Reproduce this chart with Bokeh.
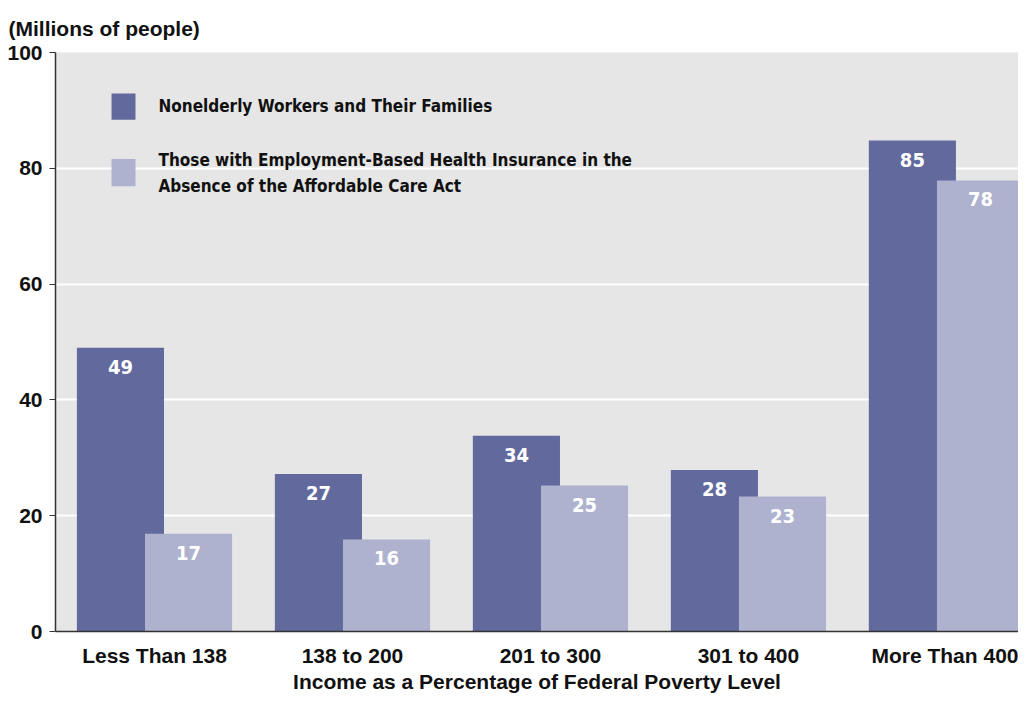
from bokeh.plotting import figure
from bokeh.models import Range1d, FixedTicker, Label, ColumnDataSource, BoxAnnotation
from bokeh.core.properties import value
from bokeh.transform import dodge
from bokeh.embed import file_html
from bokeh.resources import INLINE

categories = ["Less Than 138", "138 to 200", "201 to 300", "301 to 400", "More Than 400"]
nonelderly = [49.0, 27.2, 33.8, 27.9, 84.8]
ebhi = [16.9, 15.9, 25.2, 23.3, 77.9]
nonelderly_labels = ["49", "27", "34", "28", "85"]
ebhi_labels = ["17", "16", "25", "23", "78"]
series_names = ["Nonelderly Workers and Their Families",
                "Those with Employment-Based Health Insurance in the",
                "Absence of the Affordable Care Act"]
y_ticks = [0, 20, 40, 60, 80, 100]
y_title = "(Millions of people)"
x_title = "Income as a Percentage of Federal Poverty Level"

DARK = "#61699d"
LIGHT = "#aeb2cf"
BG = "#e6e6e6"
AX_FONT = "'Liberation Sans', Arial, sans-serif"
COND = "'Liberation Sans Narrow', 'DejaVu Sans Condensed', sans-serif"

pos = list(range(len(categories)))
src = ColumnDataSource(dict(x=pos, a=nonelderly, b=ebhi, la=nonelderly_labels, lb=ebhi_labels))

p = figure(width=1018, height=695, x_range=Range1d(-0.5, 4.364), y_range=Range1d(0, 100),
           output_backend="svg", toolbar_location=None,
           min_border_left=55, min_border_right=0, min_border_top=52, min_border_bottom=63)

p.title.text = y_title
p.title.align = "left"
p.title.vertical_align = "top"
p.title.offset = -47
p.title.standoff = 22
p.title.text_font = AX_FONT
p.title.text_font_style = "bold"
p.title.text_font_size = "21px"
p.title.text_color = "#111111"

OFF = 0.172
W = 0.44
p.vbar(x=dodge('x', -OFF), top='a', bottom=0, width=W, source=src, fill_color=DARK, line_color=None)
p.vbar(x=dodge('x', OFF), top='b', bottom=0, width=W, source=src, fill_color=LIGHT, line_color=None)

for col, lab, off in (("a", "la", -OFF), ("b", "lb", OFF)):
    p.text(x=dodge('x', off), y=col, text=lab, source=src, text_color="white",
           text_align="center", text_baseline="middle", y_offset=19,
           text_font=value(COND), text_font_style="bold", text_font_size="20px")

p.background_fill_color = BG
p.border_fill_color = "white"
p.outline_line_color = None
p.xgrid.visible = False
p.ygrid.grid_line_color = "white"
p.ygrid.grid_line_width = 2

p.yaxis.ticker = FixedTicker(ticks=y_ticks)
p.yaxis.minor_tick_line_color = None
p.yaxis.major_tick_out = 6
p.yaxis.major_tick_in = 0
p.yaxis.axis_line_color = "#333333"
p.yaxis.axis_line_width = 1.5
p.yaxis.major_tick_line_color = "#333333"
p.yaxis.major_label_standoff = 7
p.yaxis.major_label_text_font = AX_FONT
p.yaxis.major_label_text_font_style = "bold"
p.yaxis.major_label_text_font_size = "21px"
p.yaxis.major_label_text_color = "#111111"

p.xaxis.ticker = FixedTicker(ticks=pos)
p.xaxis.major_label_overrides = {i: c for i, c in zip(pos, categories)}
p.xaxis.minor_tick_line_color = None
p.xaxis.major_tick_out = 0
p.xaxis.major_tick_in = 0
p.xaxis.axis_line_color = "#333333"
p.xaxis.axis_line_width = 1.5
p.xaxis.major_label_standoff = 12
p.xaxis.major_label_text_font = AX_FONT
p.xaxis.major_label_text_font_style = "bold"
p.xaxis.major_label_text_font_size = "21px"
p.xaxis.major_label_text_color = "#111111"
p.xaxis.axis_label = x_title
p.xaxis.axis_label_standoff = 0
p.xaxis.axis_label_text_font = AX_FONT
p.xaxis.axis_label_text_font_style = "bold"
p.xaxis.axis_label_text_font_size = "21px"
p.xaxis.axis_label_text_color = "#111111"

# legend
for (top, bot, color) in ((92.9, 88.4, DARK), (81.6, 76.9, LIGHT)):
    p.add_layout(BoxAnnotation(left=-0.217, right=-0.096, top=top, bottom=bot,
                               fill_color=color, fill_alpha=1, line_color=None))
for txt, yy in zip(series_names, (90.7, 81.4, 76.9)):
    p.add_layout(Label(x=0.02, y=yy, text=txt, text_baseline="middle",
                       text_font=COND, text_font_style="bold", text_font_size="17px",
                       text_color="#111111"))

open("out.html", "w").write(file_html(p, INLINE))
